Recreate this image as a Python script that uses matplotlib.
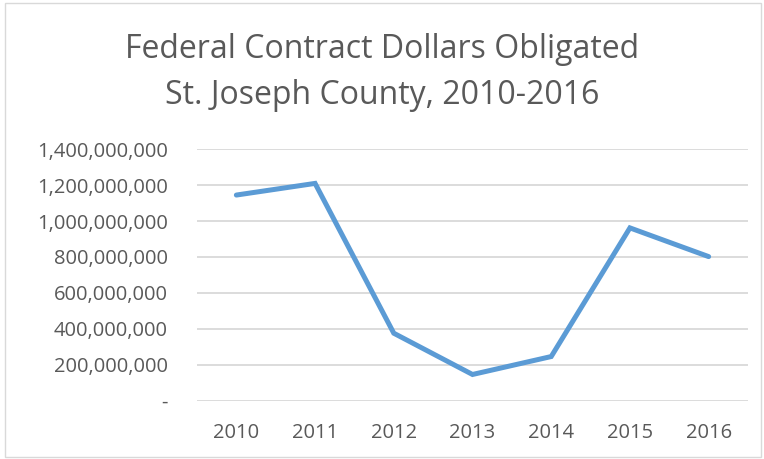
import matplotlib
matplotlib.use("Agg")
import matplotlib.pyplot as plt
from matplotlib.ticker import FuncFormatter
from matplotlib.patches import Rectangle

years = ["2010", "2011", "2012", "2013", "2014", "2015", "2016"]
dollars = [1145e6, 1210e6, 375e6, 145e6, 245e6, 962e6, 802e6]
title_lines = ["Federal Contract Dollars Obligated", "St. Joseph County, 2010-2016"]

plt.rcParams["font.family"] = ["Open Sans", "DejaVu Sans"]
grey = "#595959"

fig = plt.figure(figsize=(7.64, 4.59), dpi=100)
ax = fig.add_axes([197 / 764, 1 - 400.5 / 459, 551 / 764, (400.5 - 149.3) / 459])

x = range(len(years))
ax.plot(x, dollars, color="#5B9BD5", linewidth=3.6, solid_capstyle="round", solid_joinstyle="miter")

ax.set_xlim(-0.5, len(years) - 0.5)
ax.set_ylim(0, 1.4e9)
ax.set_yticks([i * 2e8 for i in range(8)])
ax.yaxis.set_major_formatter(FuncFormatter(lambda v, p: "-" if v == 0 else f"{v:,.0f}"))
ax.set_xticks(list(x))
ax.set_xticklabels(years)
ax.tick_params(axis="both", length=0, labelsize=14.5, colors=grey)
ax.tick_params(axis="y", pad=21)
ax.tick_params(axis="x", pad=16)
ax.grid(axis="y", color="#D9D9D9", linewidth=1.3)
ax.set_axisbelow(True)
for s in ax.spines.values():
    s.set_visible(False)

# title as two lines placed on their baselines
for line, base in zip(title_lines, [58.5, 103.5]):
    fig.text(0.5, 1 - base / 459, line, ha="center", va="baseline", fontsize=23, color=grey)
fig.patches.append(Rectangle((0.006, 0.004), 0.99, 0.99, transform=fig.transFigure,
                             fill=False, edgecolor="#D9D9D9", linewidth=1))

fig.savefig("out.png", dpi=100)
